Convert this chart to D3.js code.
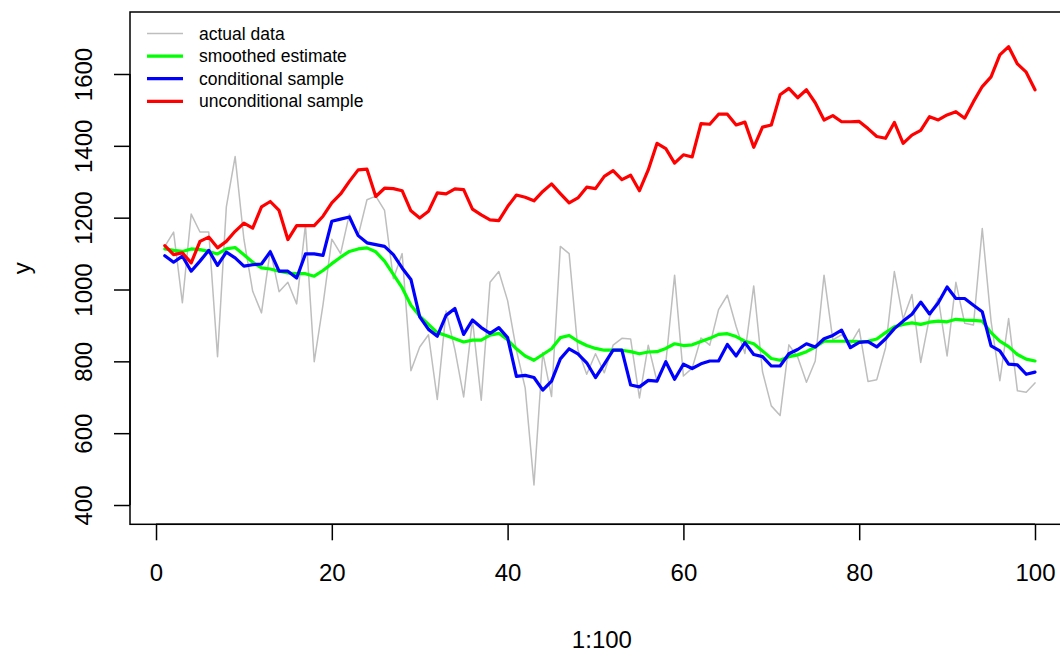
<!DOCTYPE html>
<html>
<head>
<meta charset="utf-8">
<script src="https://cdn.jsdelivr.net/npm/d3@7"></script>
<style>
  html, body { margin: 0; padding: 0; background: #fff; }
  svg { display: block; font-family: "Liberation Sans", Arial, Helvetica, sans-serif; }
</style>
</head>
<body>
<svg id="chart" width="1060" height="652"></svg>
<script>
const actualData = [1120,1160,963,1210,1160,1160,813,1230,1370,1140,
  995,935,1110,994,1020,960,1180,799,958,1140,
  1100,1210,1150,1250,1260,1220,1030,1100,774,840,
  874,694,940,833,701,916,692,1020,1050,969,
  831,726,456,824,702,1120,1100,832,764,821,
  768,845,864,862,698,845,744,796,1040,759,
  781,865,845,944,984,897,822,1010,771,676,
  649,846,812,742,801,1040,860,874,848,890,
  744,749,838,1050,918,986,797,923,975,815,
  1020,906,901,1170,912,746,919,718,714,740];

const smoothedEstimate = [1113,1109,1106,1113,1111,1106,1099,1113,1117,1097,
  1076,1060,1057,1051,1046,1044,1044,1037,1053,1072,
  1090,1106,1113,1116,1105,1079,1042,1005,956,926,
  903,880,872,863,854,859,859,873,878,860,
  835,815,803,819,835,866,872,856,844,836,
  831,831,831,827,821,826,827,836,849,844,
  846,855,864,875,877,869,856,849,829,808,
  803,813,818,827,840,856,856,856,856,855,
  856,862,880,896,903,907,903,909,912,910,
  917,915,914,912,880,856,841,819,806,801];

const conditionalSample = [1094,1076,1093,1051,1079,1109,1067,1104,1088,1065,
  1069,1071,1105,1051,1051,1032,1099,1099,1095,1190,
  1196,1202,1150,1130,1125,1120,1097,1060,1028,924,
  889,870,928,947,875,915,894,878,894,866,
  758,761,755,720,745,807,835,821,796,755,
  792,831,831,734,729,747,745,799,750,792,
  780,793,801,801,847,815,852,819,813,787,
  787,821,833,849,840,863,872,887,838,853,
  855,840,863,891,912,931,965,932,963,1007,
  975,975,956,938,843,829,792,790,764,770];

const unconditionalSample = [1122,1097,1102,1074,1134,1146,1116,1134,1162,1185,
  1171,1230,1245,1220,1139,1178,1178,1178,1204,1241,
  1266,1301,1333,1335,1259,1282,1281,1275,1219,1199,
  1218,1269,1266,1280,1278,1224,1208,1194,1192,1231,
  1263,1257,1247,1273,1294,1267,1241,1255,1285,1281,
  1315,1331,1306,1318,1275,1333,1407,1392,1352,1375,
  1369,1462,1460,1488,1488,1458,1466,1396,1452,1458,
  1542,1560,1534,1556,1520,1472,1484,1467,1467,1468,
  1448,1426,1421,1465,1407,1430,1443,1481,1472,1486,
  1495,1477,1523,1565,1592,1653,1676,1628,1605,1556];

const xTicks = [0, 20, 40, 60, 80, 100];
const yTicks = [400, 600, 800, 1000, 1200, 1400, 1600];
const legendLabels = ["actual data", "smoothed estimate", "conditional sample", "unconditional sample"];
const seriesColors = ["#bebebe", "#00ff00", "#0000ff", "#ff0000"];
const seriesWidths = [1.5, 3.2, 3.2, 3.2];
const xLabel = "1:100";
const yLabel = "y";

(function () {
const svg = d3.select("#chart");
const pLeft = 130, pTop = 12, pRight = 1069.8, pBottom = 524.3;

const x = d3.scaleLinear().domain([-2.96, 103.96]).range([pLeft, pRight]);
const y = d3.scaleLinear().domain([346.3, 1772.6]).range([pBottom, pTop]);

svg.append("rect").attr("width", 1060).attr("height", 652).attr("fill", "#fff");

const allSeries = [actualData, smoothedEstimate, conditionalSample, unconditionalSample];
const line = d3.line().x((d, i) => x(i + 1)).y(d => y(d));

const g = svg.append("g");
allSeries.forEach((s, k) => {
  g.append("path")
    .datum(s)
    .attr("fill", "none")
    .attr("stroke", seriesColors[k])
    .attr("stroke-width", seriesWidths[k])
    .attr("stroke-linejoin", "round")
    .attr("stroke-linecap", "round")
    .attr("d", line);
});

// box
svg.append("rect")
  .attr("x", pLeft).attr("y", pTop)
  .attr("width", pRight - pLeft).attr("height", pBottom - pTop)
  .attr("fill", "none").attr("stroke", "#000").attr("stroke-width", 1.5);

// axes
const tickLen = 16;
const xAxis = d3.axisBottom(x).tickValues(xTicks).tickSize(tickLen).tickPadding(24).tickFormat(d3.format("d"));
const gx = svg.append("g").attr("transform", `translate(0,${pBottom})`).call(xAxis);
gx.select(".domain").attr("d", `M${x(xTicks[0])},0H${x(xTicks[xTicks.length - 1])}`).attr("stroke-width", 1.5);
gx.selectAll(".tick line").attr("stroke-width", 1.5);
gx.selectAll(".tick text").attr("font-size", 24).attr("fill", "#000")
  .attr("font-family", "Liberation Sans, Arial, sans-serif");

const yAxis = d3.axisLeft(y).tickValues(yTicks).tickSize(tickLen).tickFormat(d3.format("d"));
const gy = svg.append("g").attr("transform", `translate(${pLeft},0)`).call(yAxis);
gy.select(".domain").attr("d", `M0,${y(yTicks[0])}V${y(yTicks[yTicks.length - 1])}`).attr("stroke-width", 1.5);
gy.selectAll(".tick line").attr("stroke-width", 1.5);
gy.selectAll(".tick text")
  .attr("font-size", 24).attr("fill", "#000")
  .attr("font-family", "Liberation Sans, Arial, sans-serif")
  .attr("x", null).attr("dy", null)
  .attr("text-anchor", "middle")
  .attr("transform", "translate(-38,0) rotate(-90)");

// axis titles
svg.append("text").attr("x", (pLeft + pRight) / 2 + 2).attr("y", 648)
  .attr("text-anchor", "middle").attr("font-size", 24).text(xLabel);
svg.append("text")
  .attr("transform", `translate(30,${(pTop + pBottom) / 2}) rotate(-90)`)
  .attr("text-anchor", "middle").attr("font-size", 24).text(yLabel);

// legend
const lg = svg.append("g");
legendLabels.forEach((lab, k) => {
  const ly = 33.5 + k * 22.6;
  lg.append("line").attr("x1", 147).attr("x2", 183).attr("y1", ly).attr("y2", ly)
    .attr("stroke", seriesColors[k]).attr("stroke-width", seriesWidths[k]);
  lg.append("text").attr("x", 199).attr("y", ly).attr("dy", "0.35em")
    .attr("font-size", 17.5).attr("fill", "#000").text(lab);
});
})();
</script>
</body>
</html>
